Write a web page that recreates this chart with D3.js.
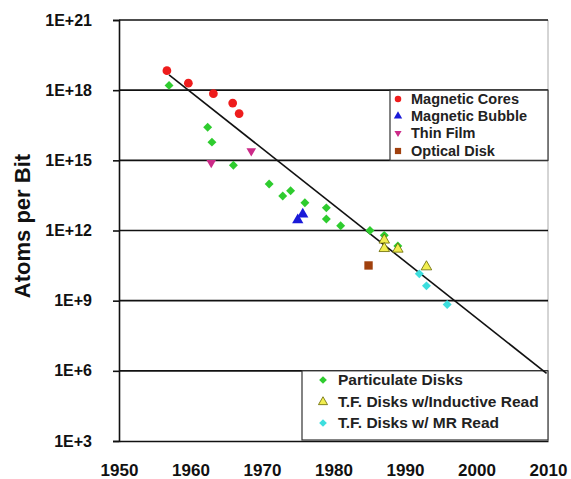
<!DOCTYPE html>
<html><head><meta charset="utf-8">
<script src="https://cdn.jsdelivr.net/npm/d3@7"></script>
<style>html,body{margin:0;padding:0;background:#fff;}svg{display:block;font-family:"Liberation Sans",Arial,sans-serif;}</style>
</head><body>
<script>
// ---- data ----
const yTickValues = [1e3, 1e6, 1e9, 1e12, 1e15, 1e18, 1e21];
const xTickValues = [1950, 1960, 1970, 1980, 1990, 2000, 2010];

const coresYears = [1956.7, 1959.7, 1963.2, 1965.9, 1966.8];
const coresValues = [6.8e18, 2.0e18, 7.1e17, 2.8e17, 1.0e17];

const bubbleYears = [1975.0, 1975.7];
const bubbleValues = [2.8e12, 5.0e12];

const thinFilmYears = [1962.9, 1968.5];
const thinFilmValues = [7.9e14, 2.5e15];

const opticalYears = [1984.9];
const opticalValues = [3.2e10];

const particulateYears = [1957.0, 1962.4, 1963.0, 1966.0, 1971.0, 1972.9, 1974.0, 1976.0, 1979.0, 1979.0, 1981.0, 1985.1, 1987.1, 1989.0];
const particulateValues = [1.6e18, 2.6e16, 6.0e15, 6.2e14, 9.8e13, 3.0e13, 5.0e13, 1.55e13, 9.3e12, 3.1e12, 1.6e12, 1.0e12, 6.2e11, 2.2e11];

const inductiveYears = [1987.1, 1987.1, 1989.0, 1993.0];
const inductiveValues = [3.9e11, 1.7e11, 1.6e11, 2.8e10];

const mrYears = [1992.0, 1993.0, 1995.9];
const mrValues = [1.4e10, 4.3e9, 6.8e8];

const trendYears = [1957.0, 2009.8];
const trendValues = [4.5e18, 7.8e5];

const seriesNames = ["Magnetic Cores", "Magnetic Bubble", "Thin Film", "Optical Disk",
  "Particulate Disks", "T.F. Disks w/Inductive Read", "T.F. Disks w/ MR Read"];

// ---- chart ----
const W = 571, H = 479;
const svg = d3.select("body").append("svg").attr("width", W).attr("height", H);
const L = 119, R = 548, T = 20, B = 441;
const x = d3.scaleLinear().domain([1950, 2010]).range([L, R]);
const y = d3.scaleLog().domain([1e3, 1e21]).range([B, T]);

// right border
svg.append("line").attr("x1", R).attr("x2", R).attr("y1", T).attr("y2", B)
  .attr("stroke", "#aaa").attr("stroke-width", 1);

// gridlines
svg.append("g").selectAll("line").data(yTickValues.slice(1)).join("line")
  .attr("x1", L).attr("x2", R).attr("y1", d => y(d)).attr("y2", d => y(d))
  .attr("stroke", "#111").attr("stroke-width", 1.6);

// y axis
const yAxis = d3.axisLeft(y).tickValues(yTickValues).tickSize(6).tickPadding(21)
  .tickFormat(d => "1E+" + Math.round(Math.log10(d)));
const gy = svg.append("g").attr("transform", `translate(${L},0)`).call(yAxis);
gy.select(".domain").attr("stroke", "#111").attr("stroke-width", 1.6);
gy.selectAll(".tick line").attr("stroke", "#111").attr("stroke-width", 1.6);
gy.selectAll("text").attr("font-size", 16).attr("font-weight", "bold").attr("fill", "#111")
  .attr("font-family", "'Liberation Sans',Arial,sans-serif");

// x axis
const xAxis = d3.axisBottom(x).tickValues(xTickValues).tickSize(0).tickPadding(23).tickFormat(d3.format("d"));
const gx = svg.append("g").attr("transform", `translate(0,${B})`).call(xAxis);
gx.select(".domain").attr("stroke", "#111").attr("stroke-width", 1.6);
gx.selectAll("text").attr("font-size", 17).attr("font-weight", "bold").attr("fill", "#111")
  .attr("font-family", "'Liberation Sans',Arial,sans-serif");

// y title
svg.append("text").attr("transform", "translate(30,226) rotate(-90)")
  .attr("text-anchor", "middle").attr("font-size", 22).attr("font-weight", "bold").attr("fill", "#111")
  .text("Atoms per Bit");

// legend boxes
svg.append("rect").attr("x", 390).attr("y", y(1e18)).attr("width", R - 390).attr("height", y(1e15) - y(1e18))
  .attr("fill", "#fff").attr("stroke", "#333").attr("stroke-width", 1.2);
svg.append("rect").attr("x", 302).attr("y", y(1e6)).attr("width", R - 302).attr("height", B - 1 - y(1e6))
  .attr("fill", "#fff").attr("stroke", "#333").attr("stroke-width", 1.2);

// trend line
svg.append("line")
  .attr("x1", x(trendYears[0])).attr("y1", y(trendValues[0]))
  .attr("x2", x(trendYears[1])).attr("y2", y(trendValues[1]))
  .attr("stroke", "#111").attr("stroke-width", 1.6);

// symbols
const sym = {
  circle: s => d3.symbol(d3.symbolCircle, s)(),
  diamond: s => d3.symbol(d3.symbolSquare, s)(),
  tri: s => d3.symbol(d3.symbolTriangle, s)(),
  square: s => d3.symbol(d3.symbolSquare, s)()
};
const series = [
  {name: seriesNames[0], xs: coresYears, vs: coresValues, shape: "circle", size: 60, fill: "#ee1c1c", stroke: "none", rot: 0},
  {name: seriesNames[1], xs: bubbleYears, vs: bubbleValues, shape: "tri", size: 55, fill: "#1a1ad8", stroke: "none", rot: 0},
  {name: seriesNames[2], xs: thinFilmYears, vs: thinFilmValues, shape: "tri", size: 40, fill: "#cc2a88", stroke: "none", rot: 180},
  {name: seriesNames[3], xs: opticalYears, vs: opticalValues, shape: "square", size: 70, fill: "#a0400d", stroke: "none", rot: 0},
  {name: seriesNames[4], xs: particulateYears, vs: particulateValues, shape: "diamond", size: 40, fill: "#2ecc2e", stroke: "none", rot: 45},
  {name: seriesNames[5], xs: inductiveYears, vs: inductiveValues, shape: "tri", size: 48, fill: "#f2ee50", stroke: "#666600", rot: 0},
  {name: seriesNames[6], xs: mrYears, vs: mrValues, shape: "diamond", size: 40, fill: "#3ddede", stroke: "none", rot: 45}
];
const order = [4, 0, 1, 2, 3, 5, 6];
order.forEach(i => {
  const s = series[i];
  svg.append("g").selectAll("path").data(s.xs.map((d, j) => [d, s.vs[j]])).join("path")
    .attr("d", sym[s.shape](s.size))
    .attr("transform", d => `translate(${x(d[0])},${y(d[1])}) rotate(${s.rot})`)
    .attr("fill", s.fill).attr("stroke", s.stroke).attr("stroke-width", 0.8);
});

// legends
function legend(items, mx, tx, ys, size, fs) {
  items.forEach((i, k) => {
    const s = series[i];
    svg.append("path").attr("d", sym[s.shape](s.size * size))
      .attr("transform", `translate(${mx},${ys[k]}) rotate(${s.rot})`)
      .attr("fill", s.fill).attr("stroke", s.stroke).attr("stroke-width", 0.8);
    svg.append("text").attr("x", tx).attr("y", ys[k]).attr("dy", "0.35em")
      .attr("font-size", fs).attr("font-weight", "bold").attr("fill", "#222").text(s.name);
  });
}
legend([0, 1, 2, 3], 398, 411, [99, 116, 133, 151], 0.55, 14.5);
legend([4, 5, 6], 323, 338, [380, 402, 423], 0.75, 15.5);
</script>
</body></html>
